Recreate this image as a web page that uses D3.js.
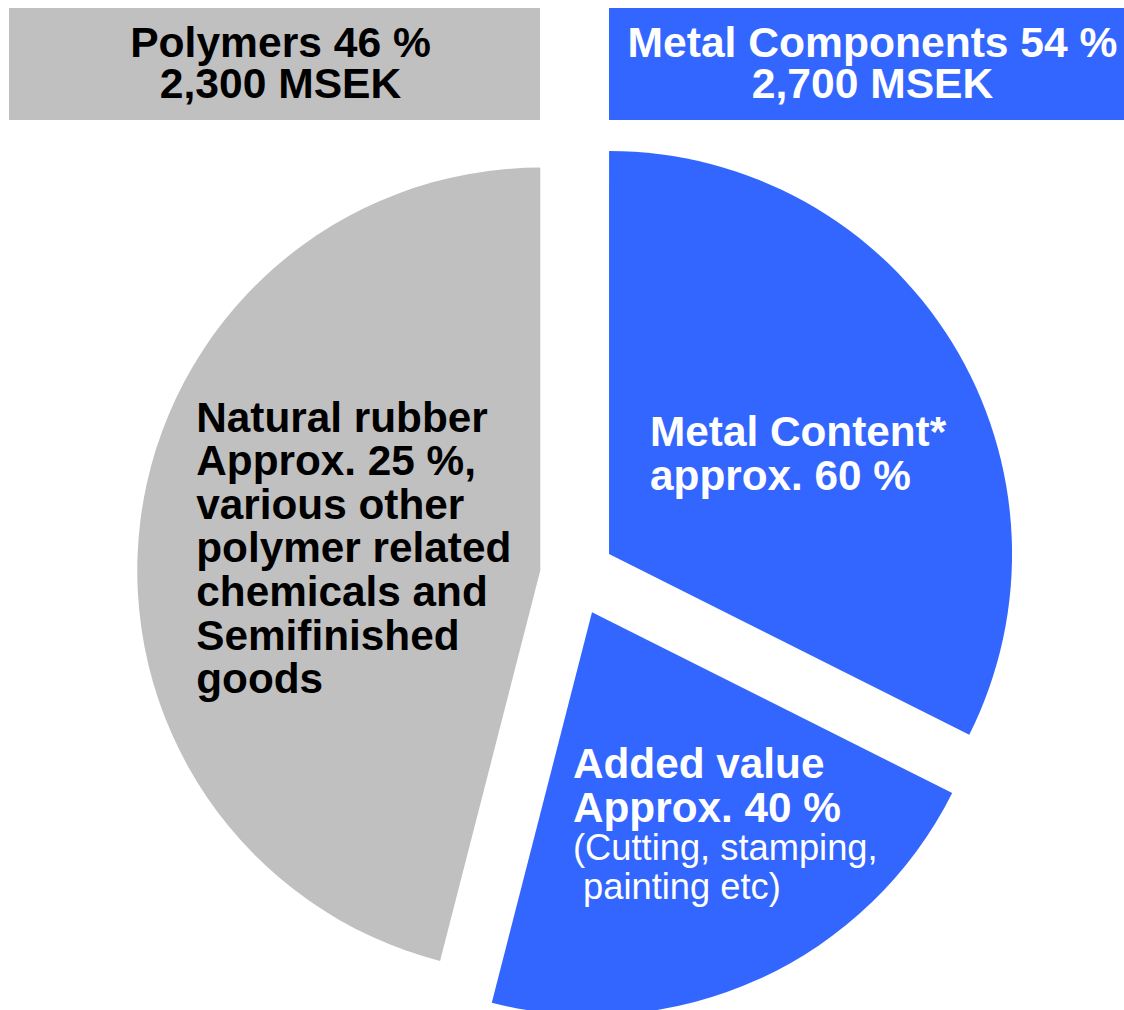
<!DOCTYPE html>
<html>
<head>
<meta charset="utf-8">
<script src="https://cdn.jsdelivr.net/npm/d3@7"></script>
<style>
  body { margin: 0; background: #fff; }
  svg { display: block; font-family: "Liberation Sans", Arial, sans-serif; }
</style>
</head>
<body>
<div class="chart"></div>
<script>
// slices in clockwise order starting at 12 o'clock
var categories = ['Metal Content', 'Added value', 'Polymers'];
var shares = [54 * 0.6, 54 * 0.4, 46];   // % of total
var groupTitles = [['Polymers 46 %', '2,300 MSEK'], ['Metal Components 54 %', '2,700 MSEK']];
var sliceLabels = [
	['Metal Content*', 'approx. 60 %'],
	['Added value', 'Approx. 40 %', '(Cutting, stamping,', '\u00a0painting etc)'],
	['Natural rubber', 'Approx. 25 %,', 'various other', 'polymer related', 'chemicals and', 'Semifinished', 'goods']
];

var width = 1124, height = 1010;
var cx = 575, cy = 575, radius = 403;
var explode = [40, 41, 35];
var colors = ['#3366ff', '#3366ff', '#c0c0c0'];
var textColors = ['#fff', '#fff', '#000'];

var svg = d3.select('.chart')
	.append('svg')
	.attr('width', width)
	.attr('height', height);

// header boxes
var boxes = [
	{x: 9, w: 531, fill: '#c0c0c0', color: '#000'},
	{x: 609, w: 515, fill: '#3366ff', color: '#fff'}
];
boxes.forEach(function(b, i) {
	svg.append('rect')
		.attr('x', b.x).attr('y', 8)
		.attr('width', b.w).attr('height', 112)
		.attr('fill', b.fill);
	svg.append('text')
		.attr('x', b.x + b.w / 2 + 6)
		.attr('y', 57)
		.attr('text-anchor', 'middle')
		.attr('font-size', 42.6)
		.attr('font-weight', 'bold')
		.attr('fill', b.color)
		.selectAll('tspan')
		.data(groupTitles[i])
		.enter()
		.append('tspan')
		.attr('x', b.x + b.w / 2 + 6)
		.attr('dy', function(d, j) { return j === 0 ? 0 : 41; })
		.text(function(d) { return d; });
});

var pie = d3.pie().sort(null).value(function(d) { return d; });
var arc = d3.arc().innerRadius(0).outerRadius(radius);
var arcs = pie(shares);

var slices = svg.selectAll('.slice')
	.data(arcs)
	.enter()
	.append('g')
	.attr('class', 'slice')
	.attr('transform', function(d, i) {
		var mid = (d.startAngle + d.endAngle) / 2;
		var dx = Math.sin(mid) * explode[i], dy = -Math.cos(mid) * explode[i];
		return 'translate(' + (cx + dx) + ',' + (cy + dy) + ')';
	});

slices.append('path')
	.attr('d', arc)
	.attr('fill', function(d, i) { return colors[i]; });

// label anchor (left edge, first baseline) relative to slice centre
var labelPos = [[41, -108], [-19, 166], [-344, -139]];

slices.each(function(d, i) {
	var t = d3.select(this).append('text')
		.attr('fill', textColors[i]);
	t.selectAll('tspan')
		.data(sliceLabels[i])
		.enter()
		.append('tspan')
		.attr('x', labelPos[i][0])
		.attr('y', function(s, j) {
			if (i === 1 && j >= 2) return labelPos[i][1] + 43.5 + (j - 1) * 38.5;
			return labelPos[i][1] + j * 43.6;
		})
		.attr('font-size', function(s, j) { return (i === 1 && j >= 2) ? 36.3 : 42.3; })
		.attr('font-weight', function(s, j) { return (i === 1 && j >= 2) ? 'normal' : 'bold'; })
		.text(function(s) { return s; });
});
</script>
</body>
</html>
